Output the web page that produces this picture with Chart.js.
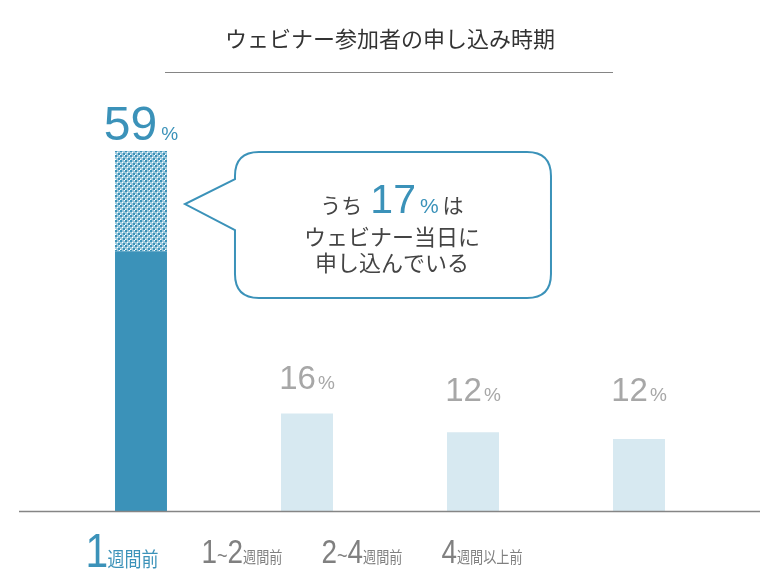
<!DOCTYPE html>
<html>
<head>
<meta charset="utf-8">
<script src="https://cdn.jsdelivr.net/npm/chart.js@4"></script>
<style>
  html, body { margin: 0; padding: 0; background: #fff; }
  #wrap { width: 783px; height: 588px; position: relative; }
</style>
</head>
<body>
<div id="wrap"><canvas id="chart"></canvas></div>
<script>
// ── data ──
const categories   = ['1週間前', '1~2週間前', '2~4週間前', '4週間以上前'];
const labelNums    = [['1'], ['1', '2'], ['2', '4'], ['4']];
const labelTails   = ['週間前', '週間前', '週間前', '週間以上前'];
const earlyShare   = [42.6, 16, 12.9, 11.8];   // solid part
const sameDayShare = [16.4, 0, 0, 0];          // hatched part (当日)
const valueLabels  = ['59', '16', '12', '12'];
const calloutPct   = '17';

const TITLE = 'ウェビナー参加者の申し込み時期';
const BLUE = '#3b92b9', LIGHT = '#d7e9f1', GRAY = '#a7a7a7', AXIS_GRAY = '#858585', LABEL_GRAY = '#808080';
const NUM_FONT = '"Liberation Sans", Arial, sans-serif';
const JP_FONT = '"Noto Sans CJK JP", "Noto Sans", sans-serif';

// small check pattern for the same-day part
function makePattern() {
  const c = document.createElement('canvas');
  c.width = 5; c.height = 5;
  const g = c.getContext('2d');
  g.fillStyle = '#9cc9dd'; g.fillRect(0, 0, 5, 5);
  g.fillStyle = BLUE;
  g.fillRect(0, 0, 2, 2);
  g.fillRect(3, 3, 2, 2);
  g.fillStyle = '#ffffff';
  g.fillRect(2, 2, 1, 1);
  g.fillRect(4, 0, 1, 1);
  g.fillRect(0, 4, 1, 1);
  return g.createPattern(c, 'repeat');
}

// draw a row of [text, font, color, gapAfter] pieces centred on cx, squeezed by sx
function drawPieces(ctx, pieces, cx, baseline, sx) {
  sx = sx || 1;
  let total = 0;
  pieces.forEach(p => { ctx.font = p[1]; total += ctx.measureText(p[0]).width + (p[3] || 0); });
  ctx.save();
  ctx.translate(cx - total * sx / 2, baseline);
  ctx.scale(sx, 1);
  let x = 0;
  ctx.textAlign = 'left'; ctx.textBaseline = 'alphabetic';
  pieces.forEach(p => {
    ctx.font = p[1]; ctx.fillStyle = p[2];
    ctx.fillText(p[0], x, 0);
    x += ctx.measureText(p[0]).width + (p[3] || 0);
  });
  ctx.restore();
}

const decorPlugin = {
  id: 'decor',
  afterDraw(chart) {
    const ctx = chart.ctx;
    const y = chart.scales.y, lx = chart.scales.lx;
    const base = y.getPixelForValue(0);
    const solid = chart.getDatasetMeta(0).data;
    const hatch = chart.getDatasetMeta(1).data;
    ctx.save();

    // title + rule
    ctx.font = '22px ' + JP_FONT; ctx.fillStyle = '#333';
    ctx.textAlign = 'center'; ctx.textBaseline = 'middle';
    ctx.fillText(TITLE, 390, 39);
    ctx.strokeStyle = AXIS_GRAY; ctx.lineWidth = 1;
    ctx.beginPath(); ctx.moveTo(165, 72.5); ctx.lineTo(613, 72.5); ctx.stroke();

    // baseline
    ctx.strokeStyle = AXIS_GRAY; ctx.lineWidth = 1.5;
    ctx.beginPath(); ctx.moveTo(19, base + 0.5); ctx.lineTo(760, base + 0.5); ctx.stroke();

    // value labels
    valueLabels.forEach((v, i) => {
      const top = Math.min(solid[i].y, hatch[i].y);
      if (i === 0) {
        drawPieces(ctx, [[v, '48px ' + NUM_FONT, BLUE, 4], ['%', '19px ' + NUM_FONT, BLUE]], solid[i].x, top - 11);
      } else {
        const yb = Math.min(top - 24, y.getPixelForValue(18));
        drawPieces(ctx, [[v, '33px ' + NUM_FONT, GRAY, 2], ['%', '19px ' + NUM_FONT, GRAY]], solid[i].x, yb);
      }
    });

    // category labels
    categories.forEach((c, i) => {
      const cx = lx.getPixelForValue(i);
      const nums = labelNums[i];
      if (i === 0) {
        drawPieces(ctx, [[nums[0], '48px ' + NUM_FONT, BLUE, -1], [labelTails[i], '20px ' + JP_FONT, BLUE]], cx, 567, 0.85);
      } else {
        const pieces = [];
        nums.forEach((n, k) => {
          if (k > 0) pieces.push(['~', '22px ' + NUM_FONT, LABEL_GRAY, 0]);
          pieces.push([n, '34px ' + NUM_FONT, LABEL_GRAY, 0]);
        });
        pieces.push([labelTails[i], '16px ' + JP_FONT, LABEL_GRAY]);
        drawPieces(ctx, pieces, cx, 563, 0.82);
      }
    });

    // callout next to the hatched part
    const hb = hatch[0];
    const tipX = hb.x + hb.width / 2 + 18;
    const tipY = (hb.y + hb.base) / 2 + 3;
    const bx = tipX + 50, bw = 316, bt = 152, bh = 146, r = 24;
    ctx.beginPath();
    ctx.moveTo(bx, tipY + 26);
    ctx.lineTo(tipX, tipY);
    ctx.lineTo(bx, tipY - 25);
    ctx.lineTo(bx, bt + r);
    ctx.quadraticCurveTo(bx, bt, bx + r, bt);
    ctx.lineTo(bx + bw - r, bt);
    ctx.quadraticCurveTo(bx + bw, bt, bx + bw, bt + r);
    ctx.lineTo(bx + bw, bt + bh - r);
    ctx.quadraticCurveTo(bx + bw, bt + bh, bx + bw - r, bt + bh);
    ctx.lineTo(bx + r, bt + bh);
    ctx.quadraticCurveTo(bx, bt + bh, bx, bt + bh - r);
    ctx.closePath();
    ctx.fillStyle = '#fff'; ctx.fill();
    ctx.strokeStyle = BLUE; ctx.lineWidth = 2; ctx.stroke();

    const ccx = bx + bw / 2 - 1;
    drawPieces(ctx, [
      ['うち', '21px ' + JP_FONT, '#444', 8],
      [calloutPct, '41px ' + NUM_FONT, BLUE, 4],
      ['%', '21px ' + NUM_FONT, BLUE, 4],
      ['は', '21px ' + JP_FONT, '#444']
    ], ccx, 213);
    ctx.font = '22px ' + JP_FONT; ctx.fillStyle = '#444';
    ctx.textAlign = 'center'; ctx.textBaseline = 'middle';
    ctx.fillText('ウェビナー当日に', ccx, 237);
    ctx.fillText('申し込んでいる', ccx, 263);
    ctx.restore();
  }
};

new Chart(document.getElementById('chart'), {
  type: 'bar',
  data: {
    labels: categories,
    datasets: [
      {
        label: '前日以前',
        data: earlyShare,
        backgroundColor: earlyShare.map((_, i) => i === 0 ? BLUE : LIGHT),
        borderWidth: 0,
        barPercentage: 1, categoryPercentage: 0.313
      },
      {
        label: '当日',
        data: sameDayShare,
        backgroundColor: makePattern(),
        borderWidth: 0,
        barPercentage: 1, categoryPercentage: 0.313
      }
    ]
  },
  options: {
    responsive: true, maintainAspectRatio: false,
    animation: false,
    layout: { padding: { left: 58, right: 61, top: 84, bottom: 77 } },
    plugins: { legend: { display: false }, tooltip: { enabled: false } },
    scales: {
      x: { stacked: true, display: false },
      // positions for the category captions, which sit on a tighter spacing than the bars
      lx: { type: 'linear', axis: 'x', position: 'bottom', display: false, offset: false, min: -0.533, max: 5.0 },
      y: { stacked: true, display: false, min: 0, max: 70 }
    }
  },
  plugins: [decorPlugin]
});
</script>
</body>
</html>
